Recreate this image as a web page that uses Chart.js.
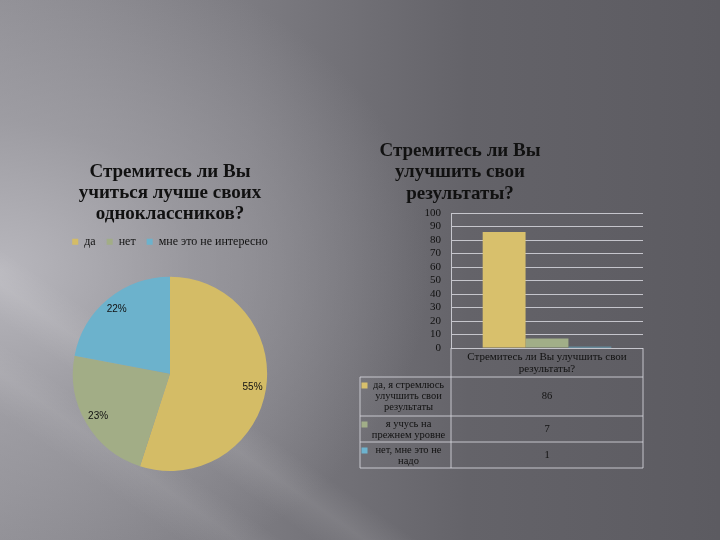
<!DOCTYPE html>
<html lang="ru">
<head>
<meta charset="utf-8">
<title>Стремитесь ли Вы</title>
<script src="https://cdn.jsdelivr.net/npm/chart.js@4.4.1/dist/chart.umd.min.js"></script>
<style>
  html, body { margin: 0; padding: 0; }
  body {
    width: 720px; height: 540px; overflow: hidden; position: relative;
    background:
      linear-gradient(35deg, transparent 12%, rgba(255,255,255,0.07) 16%, transparent 19%, transparent 21%, rgba(255,255,255,0.09) 24.5%, transparent 28%, transparent 100%),
      radial-gradient(ellipse 430px 330px at 0% 50%, rgba(186,185,191,0.95) 0%, rgba(168,167,173,0.6) 45%, rgba(150,149,155,0) 100%),
      linear-gradient(90deg, #8e8d93 0%, #7c7b81 35%, #646369 65%, #5c5b61 100%);
  }
  canvas { position: absolute; }
  #pieChart { left: 40px; top: 150px; }
  #barChart { left: 355px; top: 120px; }
</style>
</head>
<body>
<canvas id="pieChart" width="260" height="330"></canvas>
<canvas id="barChart" width="295" height="360"></canvas>
<script>
// pie: "Стремитесь ли Вы учиться лучше своих одноклассников?"
const pieTitle = ["Стремитесь ли Вы", "учиться лучше своих", "одноклассников?"];
const pieLabels = ["да", "нет", "мне это не интересно"];
const pieValues = [55, 23, 22];
const pieColors = ["#d4bc66", "#a2ad86", "#6cb2cc"];

// bar: "Стремитесь ли Вы улучшить свои результаты?"
const barTitle = ["Стремитесь ли Вы", "улучшить свои", "результаты?"];
const barCategory = [["Стремитесь ли Вы улучшить свои", "результаты?"]];
const barSeries = [
  ["да, я стремлюсь", "улучшить свои", "результаты"],
  ["я учусь на", "прежнем уровне"],
  ["нет, мне это не", "надо"]
];
const barValues = [86, 7, 1];
const barColors = ["#d8c06c", "#a1ae88", "#6db3cf"];
const yTicks = { min: 0, max: 100, step: 10 };

const serif = '"Liberation Serif", "DejaVu Serif", serif';
const ink = "#111";
const lineColor = "rgba(215,215,222,0.85)";

// percent labels inside the pie slices
const pieLabelPlugin = {
  id: "pieLabels",
  afterDatasetsDraw(chart) {
    const ctx = chart.ctx;
    const meta = chart.getDatasetMeta(0);
    ctx.save();
    ctx.font = "10px 'Liberation Sans', Arial, sans-serif";
    ctx.fillStyle = ink;
    ctx.textAlign = "center";
    ctx.textBaseline = "middle";
    meta.data.forEach((arc, i) => {
      const p = arc.getProps(["x", "y", "startAngle", "endAngle", "outerRadius"], true);
      const mid = (p.startAngle + p.endAngle) / 2;
      const r = p.outerRadius * 0.86;
      ctx.fillText(pieValues[i] + "%", p.x + Math.cos(mid) * r, p.y + Math.sin(mid) * r);
    });
    ctx.restore();
  }
};

// extra gap between the legend and the pie
const legendGapPlugin = {
  id: "legendGap",
  beforeInit(chart) {
    const fit = chart.legend.fit;
    chart.legend.fit = function () {
      fit.call(this);
      this.height += 19;
    };
  }
};

new Chart(document.getElementById("pieChart"), {
  type: "pie",
  data: {
    labels: pieLabels,
    datasets: [{ data: pieValues, backgroundColor: pieColors, borderWidth: 0 }]
  },
  options: {
    responsive: false,
    animation: false,
    layout: { padding: { top: 0, bottom: 9 } },
    plugins: {
      title: {
        display: true,
        text: pieTitle,
        color: ink,
        font: { family: serif, size: 19, weight: "bold", lineHeight: 1.1 },
        padding: { top: 12, bottom: 0 }
      },
      legend: {
        position: "top",
        labels: {
          color: ink,
          font: { family: serif, size: 12 },
          boxWidth: 6,
          boxHeight: 6,
          padding: 11
        }
      },
      tooltip: { enabled: false }
    }
  },
  plugins: [pieLabelPlugin, legendGapPlugin]
});

// title above the bar chart, offset to the left like on the slide
const barTitlePlugin = {
  id: "barTitle",
  afterDraw(chart) {
    const ctx = chart.ctx;
    ctx.save();
    ctx.font = "bold 19px " + serif;
    ctx.fillStyle = ink;
    ctx.textAlign = "center";
    ctx.textBaseline = "middle";
    barTitle.forEach((line, i) => ctx.fillText(line, 105, 31 + i * 21.5));
    ctx.restore();
  }
};

// data table under the x axis
const dataTablePlugin = {
  id: "dataTable",
  afterDraw(chart) {
    const ctx = chart.ctx;
    const area = chart.chartArea;
    const tableLeft = 5;
    const headerBottom = area.bottom + 29;
    const lineH = 11;
    ctx.save();
    ctx.strokeStyle = lineColor;
    ctx.lineWidth = 1;
    ctx.font = "10.5px " + serif;
    ctx.textAlign = "center";
    ctx.textBaseline = "middle";

    const hLine = (x1, x2, y) => { ctx.beginPath(); ctx.moveTo(x1, y); ctx.lineTo(x2, y); ctx.stroke(); };
    const vLine = (x, y1, y2) => { ctx.beginPath(); ctx.moveTo(x, y1); ctx.lineTo(x, y2); ctx.stroke(); };

    let y = headerBottom;
    hLine(tableLeft, area.right, y);
    barSeries.forEach((lines, i) => {
      const h = lines.length * lineH + (lines.length > 2 ? 6 : 4);
      const labelX = (tableLeft + 6 + area.left) / 2;
      lines.forEach((t, k) => {
        ctx.fillStyle = ink;
        ctx.fillText(t, labelX, y + 3 + lineH / 2 + k * lineH);
      });
      ctx.fillStyle = barColors[i];
      ctx.fillRect(tableLeft + 1.5, y + 3 + lineH / 2 - 3, 6, 6);
      ctx.fillStyle = ink;
      ctx.fillText(String(barValues[i]), (area.left + area.right) / 2, y + h / 2);
      y += h;
      hLine(tableLeft, area.right, y);
    });
    vLine(tableLeft, headerBottom, y);
    vLine(area.left, area.bottom, y);
    vLine(area.right, area.bottom, y);
    ctx.restore();
  }
};

new Chart(document.getElementById("barChart"), {
  type: "bar",
  data: {
    labels: barCategory,
    datasets: barSeries.map((lines, i) => ({
      label: lines.join(" "),
      data: [barValues[i]],
      backgroundColor: barColors[i],
      categoryPercentage: 0.67,
      barPercentage: 1
    }))
  },
  options: {
    responsive: false,
    animation: false,
    layout: { padding: { top: 93, left: 0, right: 7, bottom: 0 } },
    plugins: {
      legend: { display: false },
      title: { display: false },
      tooltip: { enabled: false }
    },
    scales: {
      x: {
        grid: { display: false, drawTicks: false },
        border: { display: false },
        ticks: { color: ink, font: { family: serif, size: 11, lineHeight: 1.1 }, padding: 3, maxRotation: 0, autoSkip: false },
        afterFit: s => { s.height = 132; }
      },
      y: {
        min: yTicks.min,
        max: yTicks.max,
        ticks: { stepSize: yTicks.step, autoSkip: false, color: ink, font: { family: serif, size: 11 }, padding: 10 },
        grid: { color: lineColor, drawTicks: false },
        border: { color: lineColor },
        afterFit: s => { s.width = 96; }
      }
    }
  },
  plugins: [barTitlePlugin, dataTablePlugin]
});
</script>
</body>
</html>
